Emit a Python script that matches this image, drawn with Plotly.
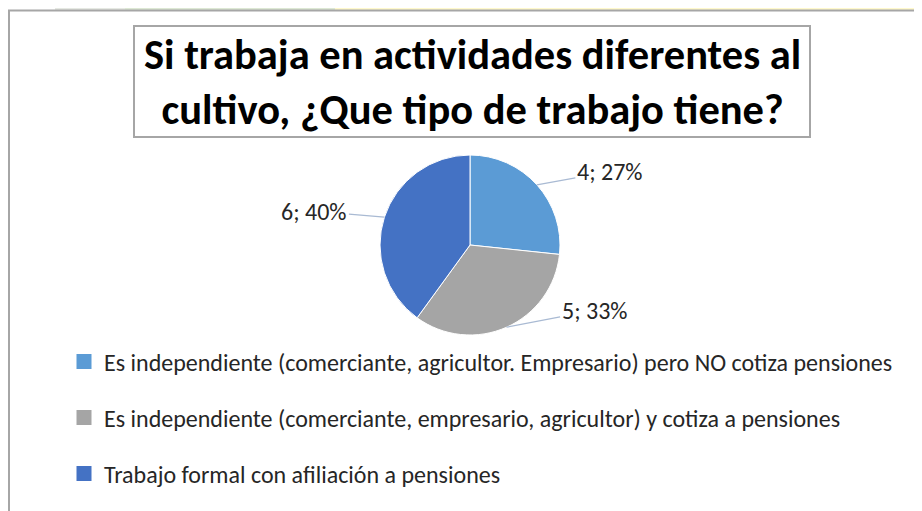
import math
import plotly.graph_objects as go

# ---------------- data ----------------
labels = [
    "Es independiente (comerciante, agricultor. Empresario) pero NO cotiza pensiones",
    "Es independiente (comerciante, empresario, agricultor) y cotiza a pensiones",
    "Trabajo formal con afiliación a pensiones",
]
values = [4, 5, 6]
colors = ["#5b9bd5", "#a5a5a5", "#4472c4"]
title_lines = ["Si trabaja en actividades diferentes al", "cultivo, ¿Que tipo de trabajo tiene?"]

# ---------------- layout helpers ----------------
# the page body has an 8px margin, so the figure is offset by 8px in the window
OFF = 8
W, H = 922 - OFF, 511 - OFF


def px(x):
    return (x - OFF) / W


def py(y):
    return 1 - (y - OFF) / H


CX, CY, R = 470, 245, 90          # pie centre / radius (window pixels)
LABEL_OFFSETS = [(73, -13), (88, -17), (-70, -6)]
LEGEND_X = 64
LEGEND_ROWS = [362, 418, 474]
FONT = "Carlito, Lato, 'Open Sans', sans-serif"
TXT = "#262626"

fig = go.Figure()

fig.add_trace(go.Pie(
    labels=labels, values=values, sort=False, direction="clockwise", rotation=0,
    marker=dict(colors=colors, line=dict(color="white", width=1)),
    textinfo="none", showlegend=False,
    domain=dict(x=[px(CX - R), px(CX + R)], y=[py(CY + R), py(CY - R)]),
))

# legend entries (one legend per row so spacing can follow the reference)
for i, lab in enumerate(labels):
    fig.add_trace(go.Scatter(
        x=[None], y=[None], mode="markers", name=lab,
        marker=dict(symbol="square", size=15, color=colors[i]),
        legend="legend" if i == 0 else f"legend{i + 1}",
        hoverinfo="skip",
    ))

# data labels with leader lines, positions derived from the values
total = sum(values)
annotations = []
cum = 0
for i, v in enumerate(values):
    theta = 2 * math.pi * (cum + v / 2) / total
    cum += v
    ex = CX + R * math.sin(theta)
    ey = CY - R * math.cos(theta)
    pct = round(100 * v / total)
    annotations.append(dict(
        x=px(ex), y=py(ey), xref="paper", yref="paper",
        text=f"{v}; {pct}%", showarrow=True, arrowhead=0, arrowwidth=1.3,
        arrowcolor="#a9bad3", ax=LABEL_OFFSETS[i][0], ay=LABEL_OFFSETS[i][1],
        standoff=0, startstandoff=0,
        font=dict(family=FONT, size=24, color=TXT),
    ))

annotations.append(dict(
    x=px(472), y=py(81.5), xref="paper", yref="paper", showarrow=False,
    text="<b>" + "<br>".join(title_lines) + "</b>",
    font=dict(family=FONT, size=42.5, color="#000000"),
    xanchor="center", yanchor="middle",
))

shapes = [
    # faint watermark strip above the chart frame
    dict(type="rect", xref="paper", yref="paper", x0=px(55), x1=px(125), y0=py(10), y1=1,
         fillcolor="#e6e9e3", line=dict(width=0), layer="below"),
    dict(type="rect", xref="paper", yref="paper", x0=px(125), x1=px(335), y0=py(10), y1=1,
         fillcolor="#dde8d4", line=dict(width=0), layer="below"),
    dict(type="rect", xref="paper", yref="paper", x0=px(335), x1=1, y0=py(10), y1=1,
         fillcolor="#fff9cc", line=dict(width=0), layer="below"),
    # chart frame
    dict(type="line", xref="paper", yref="paper", x0=px(9), x1=px(9), y0=0, y1=py(10),
         line=dict(color="#a6a6a6", width=2)),
    dict(type="line", xref="paper", yref="paper", x0=px(8), x1=1, y0=py(10.5), y1=py(10.5),
         line=dict(color="#a6a6a6", width=2)),
    # title box
    dict(type="rect", xref="paper", yref="paper", x0=px(134), x1=px(810), y0=py(137), y1=py(26),
         line=dict(color="#a6a6a6", width=2), fillcolor="rgba(0,0,0,0)"),
]

legend_common = dict(xanchor="left", yanchor="middle", bgcolor="rgba(0,0,0,0)",
                     font=dict(family=FONT, size=24, color=TXT), itemwidth=30)
legend_kw = {}
for i, row in enumerate(LEGEND_ROWS):
    key = "legend" if i == 0 else f"legend{i + 1}"
    legend_kw[key] = dict(x=px(LEGEND_X), y=py(row), **legend_common)

fig.update_layout(
    width=W, height=H, margin=dict(l=0, r=0, t=0, b=0),
    paper_bgcolor="white", plot_bgcolor="white",
    xaxis=dict(visible=False), yaxis=dict(visible=False),
    annotations=annotations, shapes=shapes,
    **legend_kw,
)

fig.write_html("out.html")
